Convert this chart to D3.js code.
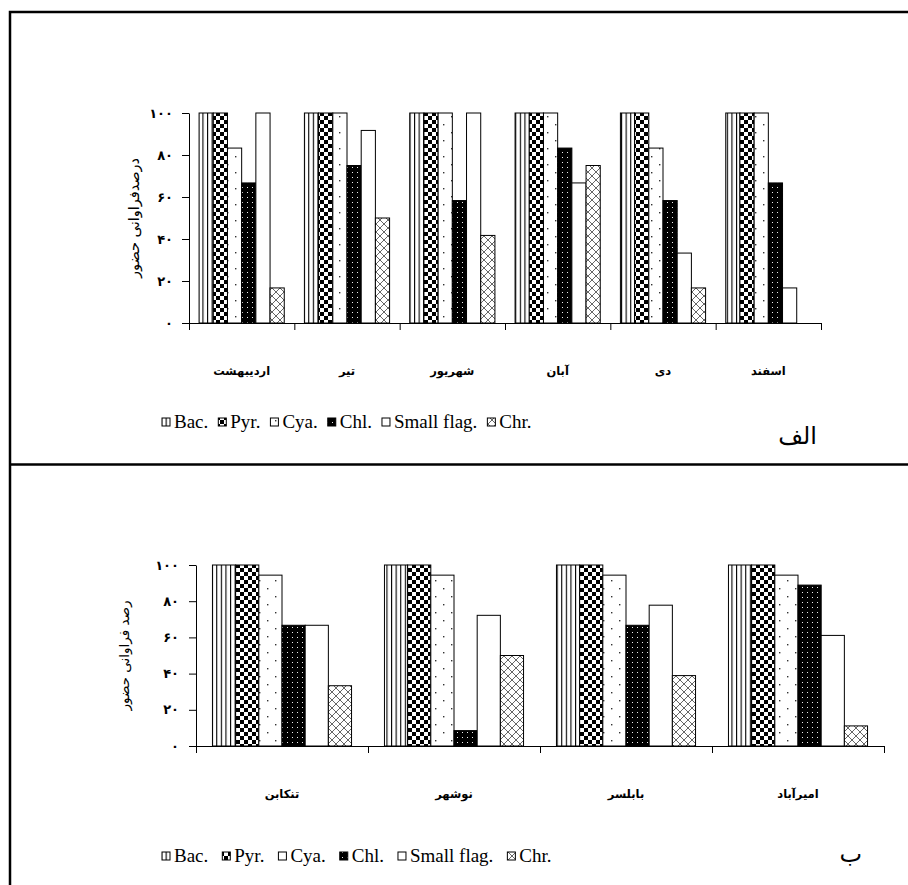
<!DOCTYPE html>
<html>
<head>
<meta charset="utf-8">
<title>Phytoplankton presence frequency</title>
<script src="https://cdn.jsdelivr.net/npm/d3@7"></script>
<style>
  body { margin: 0; background: #fff; }
</style>
</head>
<body>
<svg id="chart" width="908" height="885"></svg>
<script>
// ---- data ----
const seriesNames = ["Bac.", "Pyr.", "Cya.", "Chl.", "Small flag.", "Chr."];
const yTicks = [0, 20, 40, 60, 80, 100];

// panel الف : months
const monthsTop = ["اردیبهشت", "تیر", "شهریور", "آبان", "دی", "اسفند"];
const bacTop   = [100, 100, 100, 100, 100, 100];
const pyrTop   = [100, 100, 100, 100, 100, 100];
const cyaTop   = [83.3, 100, 100, 100, 83.3, 100];
const chlTop   = [66.7, 75, 58.3, 83.3, 58.3, 66.7];
const smallTop = [100, 91.7, 100, 66.7, 33.3, 16.7];
const chrTop   = [16.7, 50, 41.7, 75, 16.7, 0];

// panel ب : stations
const stationsBottom = ["تنکابن", "نوشهر", "بابلسر", "امیرآباد"];
const bacBottom   = [100, 100, 100, 100];
const pyrBottom   = [100, 100, 100, 100];
const cyaBottom   = [94.4, 94.4, 94.4, 94.4];
const chlBottom   = [66.7, 8.5, 66.7, 88.9];
const smallBottom = [66.7, 72.2, 77.8, 61.1];
const chrBottom   = [33.3, 50, 38.9, 11.1];

const toPersian = n => String(n).replace(/\d/g, d => "۰۱۲۳۴۵۶۷۸۹"[d]);
const arabicFont = "'DejaVu Sans', sans-serif";
const latinFont = "'Liberation Serif', 'Times New Roman', serif";

const svg = d3.select("#chart");

// ---- fill patterns ----
const defs = svg.append("defs");
const patIds = ["pBac", "pPyr", "pCya", "pChl", "pSmall", "pChr"];

let p = defs.append("pattern").attr("id", "pBac").attr("patternUnits", "userSpaceOnUse")
  .attr("width", 4.6).attr("height", 10);
p.append("rect").attr("width", 4.6).attr("height", 10).attr("fill", "#fff");
p.append("rect").attr("x", 0).attr("width", 1.1).attr("height", 10).attr("fill", "#000");

p = defs.append("pattern").attr("id", "pPyr").attr("patternUnits", "userSpaceOnUse")
  .attr("width", 8).attr("height", 8);
p.append("rect").attr("width", 8).attr("height", 8).attr("fill", "#fff");
p.append("rect").attr("width", 4).attr("height", 4).attr("fill", "#000");
p.append("rect").attr("x", 4).attr("y", 4).attr("width", 4).attr("height", 4).attr("fill", "#000");

p = defs.append("pattern").attr("id", "pCya").attr("patternUnits", "userSpaceOnUse")
  .attr("width", 16).attr("height", 16);
p.append("rect").attr("width", 16).attr("height", 16).attr("fill", "#fff");
p.append("rect").attr("x", 3).attr("y", 4).attr("width", 1.4).attr("height", 1.4).attr("fill", "#333");
p.append("rect").attr("x", 11).attr("y", 12).attr("width", 1.4).attr("height", 1.4).attr("fill", "#333");

p = defs.append("pattern").attr("id", "pChl").attr("patternUnits", "userSpaceOnUse")
  .attr("width", 5).attr("height", 5);
p.append("rect").attr("width", 5).attr("height", 5).attr("fill", "#000");
p.append("rect").attr("x", 2).attr("y", 2).attr("width", 1).attr("height", 1).attr("fill", "#eee");

p = defs.append("pattern").attr("id", "pSmall").attr("patternUnits", "userSpaceOnUse")
  .attr("width", 4).attr("height", 4);
p.append("rect").attr("width", 4).attr("height", 4).attr("fill", "#fff");

p = defs.append("pattern").attr("id", "pChr").attr("patternUnits", "userSpaceOnUse")
  .attr("width", 8).attr("height", 8);
p.append("rect").attr("width", 8).attr("height", 8).attr("fill", "#fff");
p.append("path").attr("d", "M0,0L8,8M8,0L0,8").attr("stroke", "#555").attr("stroke-width", 0.9);

// ---- frame lines ----
svg.append("path").attr("d", "M10,885V12H908").attr("fill", "none").attr("stroke", "#000").attr("stroke-width", 2.5);
svg.append("path").attr("d", "M10,464.5H908").attr("stroke", "#000").attr("stroke-width", 2.5);

function drawPanel(cfg) {
  const { cats, values, x0, x1, yBottom, yTop, tickPad, titleX, title, titleSize,
          labelY, legendX, legendY, legendGap } = cfg;
  const g = svg.append("g");

  const x = d3.scaleBand().domain(cats).range([x0, x1]);
  const xInner = d3.scaleBand().domain(seriesNames).range([0, x.bandwidth()]).paddingOuter(0.71);
  const xEdges = d3.scaleLinear().domain([0, cats.length]).range([x0, x1]);
  const y = d3.scaleLinear().domain([0, 100]).range([yBottom, yTop]);

  // bars
  const rows = [];
  seriesNames.forEach((s, si) => cats.forEach((c, ci) => rows.push({ s, si, c, v: values[si][ci] })));
  g.selectAll("rect.bar").data(rows.filter(d => d.v > 0)).join("rect")
    .attr("class", "bar")
    .attr("x", d => x(d.c) + xInner(d.s))
    .attr("y", d => y(d.v))
    .attr("width", xInner.bandwidth())
    .attr("height", d => y(0) - y(d.v))
    .attr("fill", d => `url(#${patIds[d.si]})`)
    .attr("stroke", "#000").attr("stroke-width", 1);

  // y axis
  const yAxis = g.append("g").attr("transform", `translate(${x0},0)`)
    .call(d3.axisLeft(y).tickValues(yTicks).tickSize(7).tickSizeOuter(0).tickPadding(tickPad).tickFormat(toPersian));
  yAxis.selectAll("text").attr("font-family", arabicFont).attr("font-size", 13).attr("font-weight", "bold").attr("fill", "#000");
  yAxis.selectAll("line,path").attr("stroke", "#000");

  // x axis with boundary ticks
  const xAxis = g.append("g").attr("transform", `translate(0,${yBottom})`)
    .call(d3.axisBottom(xEdges).tickValues(d3.range(cats.length + 1)).tickSize(7).tickSizeOuter(0).tickFormat(""));
  xAxis.selectAll("line,path").attr("stroke", "#000");

  // category labels
  g.selectAll("text.cat").data(cats).join("text")
    .attr("class", "cat")
    .attr("x", d => x(d) + x.bandwidth() / 2)
    .attr("y", labelY)
    .attr("text-anchor", "middle")
    .attr("font-family", arabicFont).attr("font-size", 11.5).attr("font-weight", "bold")
    .text(d => d);

  // y title
  g.append("text")
    .attr("transform", `translate(${titleX},${(yTop + yBottom) / 2}) rotate(-90)`)
    .attr("text-anchor", "middle")
    .attr("font-family", arabicFont).attr("font-size", titleSize)
    .text(title);

  // legend
  let lx = legendX;
  seriesNames.forEach((s, i) => {
    g.append("rect").attr("x", lx).attr("y", legendY - 5).attr("width", 8).attr("height", 8)
      .attr("fill", `url(#${patIds[i]})`).attr("stroke", "#000").attr("stroke-width", 1);
    const t = g.append("text").attr("x", lx + 12).attr("y", legendY + 5)
      .attr("font-family", latinFont).attr("font-size", 19).text(s);
    lx += 12 + t.node().getComputedTextLength() + legendGap;
  });
}

drawPanel({
  cats: monthsTop,
  values: [bacTop, pyrTop, cyaTop, chlTop, smallTop, chrTop],
  x0: 189, x1: 821, yBottom: 323, yTop: 113, tickPad: 9,
  titleX: 139, title: "درصدفراوانی حضور", titleSize: 14.5,
  labelY: 375, legendX: 162, legendY: 423, legendGap: 10
});

drawPanel({
  cats: stationsBottom,
  values: [bacBottom, pyrBottom, cyaBottom, chlBottom, smallBottom, chrBottom],
  x0: 196, x1: 884, yBottom: 746, yTop: 565, tickPad: 10,
  titleX: 129, title: "رصد فراوانی حضور", titleSize: 13.5,
  labelY: 798, legendX: 162, legendY: 857, legendGap: 14
});

// panel letters
svg.append("text").attr("x", 817).attr("y", 444).attr("text-anchor", "end")
  .attr("font-family", arabicFont).attr("font-size", 24).text("الف");
svg.append("text").attr("x", 862).attr("y", 862).attr("text-anchor", "end")
  .attr("font-family", arabicFont).attr("font-size", 24).text("ب");
</script>
</body>
</html>
